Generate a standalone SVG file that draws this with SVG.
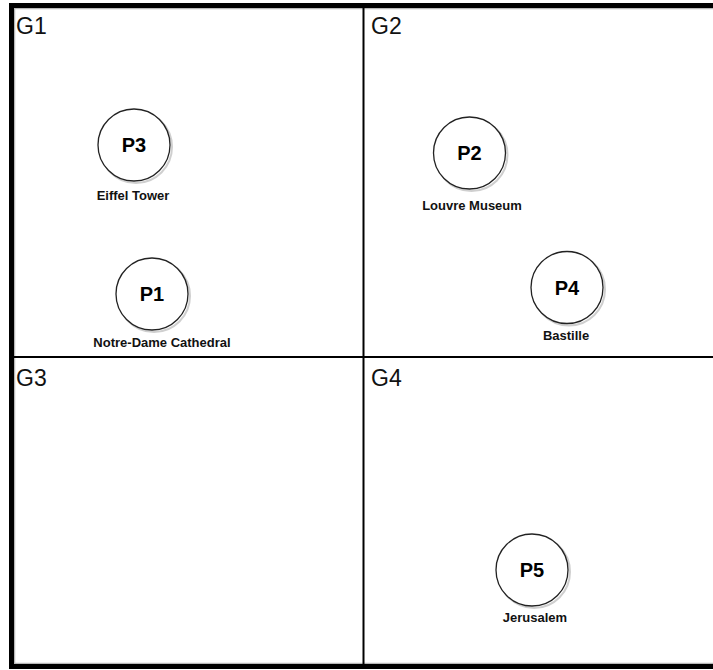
<svg xmlns="http://www.w3.org/2000/svg" width="713" height="670" viewBox="0 0 713 670">
  <style>
    .frame { fill: none; stroke: #000; stroke-width: 5; }
    .frame-shade { fill: none; stroke: #b8b8b8; stroke-width: 1.5; }
    .divider { stroke: #000; stroke-width: 2; fill: none; }
    .zone { font-family: "Liberation Sans", Arial, sans-serif; font-size: 23px; fill: #111; }
    .dot { fill: #fff; stroke: #222; stroke-width: 1.3; }
    .dot-shadow { fill: none; stroke: #bbb; stroke-width: 2; opacity: 0.7; }
    .tag { font-family: "Liberation Sans", Arial, sans-serif; font-size: 20px; font-weight: bold; fill: #000; text-anchor: middle; }
    .name { font-family: "Liberation Sans", Arial, sans-serif; font-size: 13px; font-weight: bold; fill: #111; text-anchor: middle; }
  </style>
  <rect x="0" y="0" width="713" height="670" fill="#fff"/>

  <!-- outer frame and quadrant dividers -->
  <g id="grid">
    <rect class="frame-shade" x="14.5" y="8.5" width="710" height="655"/>
    <rect class="frame" x="11.5" y="5.5" width="710" height="661"/>
    <line class="divider" x1="363.5" y1="6" x2="363.5" y2="666"/>
    <line class="divider" x1="12" y1="357" x2="713" y2="357"/>
  </g>

  <g id="G1"><text class="zone" x="16" y="34">G1</text></g>
  <g id="G2"><text class="zone" x="371" y="34">G2</text></g>
  <g id="G3"><text class="zone" x="16" y="386">G3</text></g>
  <g id="G4"><text class="zone" x="371" y="386">G4</text></g>

  <g id="connectors"></g>

  <g id="P3">
    <circle class="dot-shadow" cx="136" cy="147" r="36"/>
    <circle class="dot" cx="134" cy="145" r="36"/>
    <text class="tag" x="134" y="152">P3</text>
    <text class="name" x="133" y="200">Eiffel Tower</text>
  </g>

  <g id="P1">
    <circle class="dot-shadow" cx="154" cy="296" r="36"/>
    <circle class="dot" cx="152" cy="294" r="36"/>
    <text class="tag" x="152" y="301">P1</text>
    <text class="name" x="162" y="347">Notre-Dame Cathedral</text>
  </g>

  <g id="P2">
    <circle class="dot-shadow" cx="471.5" cy="155" r="36"/>
    <circle class="dot" cx="469.5" cy="153" r="36"/>
    <text class="tag" x="469.5" y="160">P2</text>
    <text class="name" x="472" y="210">Louvre Museum</text>
  </g>

  <g id="P4">
    <circle class="dot-shadow" cx="569" cy="289.5" r="36"/>
    <circle class="dot" cx="567" cy="287.5" r="36"/>
    <text class="tag" x="567" y="294.5">P4</text>
    <text class="name" x="566" y="340">Bastille</text>
  </g>

  <g id="P5">
    <circle class="dot-shadow" cx="534" cy="572" r="36"/>
    <circle class="dot" cx="532" cy="570" r="36"/>
    <text class="tag" x="532" y="577">P5</text>
    <text class="name" x="535" y="622">Jerusalem</text>
  </g>
</svg>
